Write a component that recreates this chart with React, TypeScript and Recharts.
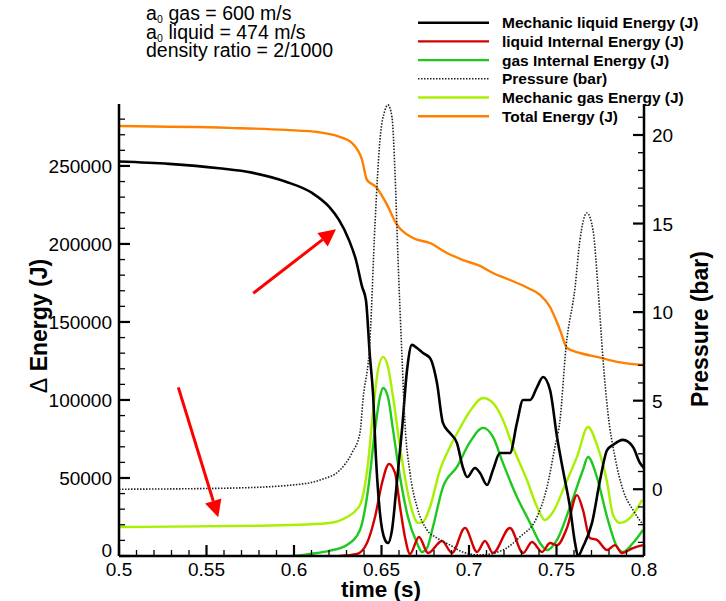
import React from 'react';
import { ComposedChart, Line, XAxis, YAxis, Legend, ReferenceLine, Customized } from 'recharts';

const FONT = '"Liberation Sans", Arial, Helvetica, sans-serif';

// [time (s), energy (J)]
const liquidMechanic: [number, number][] = [
  [0.5, 252800], [0.5286, 251300], [0.5571, 248500], [0.576, 245700], [0.5954, 239900],
  [0.6103, 232700], [0.62, 223900], [0.6257, 215400], [0.6314, 202600], [0.6354, 189700],
  [0.6389, 172600], [0.6411, 164100], [0.6434, 127600], [0.6451, 105100], [0.6469, 61500],
  [0.6491, 27600], [0.652, 10300], [0.6537, 8300], [0.656, 16700], [0.6589, 48700],
  [0.6617, 80800], [0.6646, 119200], [0.6674, 135300], [0.6703, 133300], [0.6737, 130100],
  [0.6777, 126900], [0.6817, 110900], [0.6851, 85300], [0.6891, 78800], [0.6931, 72400],
  [0.6966, 56400], [0.6989, 50600], [0.7034, 56400], [0.7063, 53200], [0.7103, 45500],
  [0.7137, 55100], [0.7177, 66000], [0.7234, 66000], [0.7274, 85300], [0.7309, 100000],
  [0.7349, 100000], [0.7389, 108300], [0.7423, 114700], [0.7463, 106400], [0.7503, 76300],
  [0.7537, 55100], [0.7577, 31400], [0.7606, 8300], [0.7623, 0], [0.7651, 5800],
  [0.7703, 21200], [0.7749, 48700], [0.7789, 67900], [0.7823, 71200], [0.788, 74400],
  [0.7937, 69900], [0.7977, 59600], [0.8, 56400],
];

const liquidInternal: [number, number][] = [
  [0.6263, 0], [0.636, 1300], [0.6417, 8300], [0.6463, 25000], [0.6503, 46800],
  [0.6543, 59000], [0.6577, 53200], [0.6606, 31400], [0.6634, 12200], [0.6663, 1300],
  [0.6714, 12200], [0.6766, 1900], [0.6846, 9600], [0.6903, 1900], [0.6977, 18000],
  [0.7046, 2600], [0.7091, 9600], [0.7137, 1900], [0.7234, 17900], [0.7309, 1900],
  [0.736, 9000], [0.7417, 2600], [0.7463, 8300], [0.7503, 7000], [0.756, 18000],
  [0.7617, 39000], [0.7651, 29500], [0.7691, 11500], [0.7731, 10300], [0.7789, 3800],
  [0.7834, 7000], [0.7874, 1900], [0.7937, 5100], [0.7994, 7000],
];

const gasInternal: [number, number][] = [
  [0.6, 0], [0.6091, 1300], [0.6206, 3400], [0.6303, 7100], [0.6377, 16700],
  [0.6423, 42300], [0.6463, 80800], [0.6491, 101900], [0.6509, 107700], [0.6537, 101900],
  [0.6566, 80800], [0.6606, 50600], [0.6651, 25000], [0.6703, 8300], [0.6731, 2600],
  [0.676, 5100], [0.6794, 18600], [0.6851, 44200], [0.6931, 57100], [0.7006, 73100],
  [0.708, 82100], [0.7137, 76300], [0.7194, 59600], [0.7274, 37800], [0.7349, 21200],
  [0.7406, 8300], [0.7446, 3800], [0.7503, 10300], [0.7577, 31400], [0.7651, 55100],
  [0.768, 63500], [0.7731, 50600], [0.7789, 25000], [0.7846, 5800], [0.788, 2600],
  [0.7937, 8300], [0.7994, 16700],
];

const gasMechanic: [number, number][] = [
  [0.5, 18600], [0.5806, 19400], [0.6189, 21000], [0.6303, 25000], [0.6377, 32700],
  [0.6423, 59600], [0.6451, 91700], [0.648, 119200], [0.6509, 127600], [0.6537, 121200],
  [0.6566, 101900], [0.6606, 69900], [0.6663, 34000], [0.6709, 21200], [0.6737, 21800],
  [0.6777, 31400], [0.6834, 55100], [0.6891, 69900], [0.6949, 82100], [0.7006, 92900],
  [0.708, 101300], [0.7137, 98100], [0.7194, 87200], [0.7251, 69900], [0.7331, 48700],
  [0.7389, 31400], [0.7434, 23100], [0.748, 28200], [0.7549, 45500], [0.7617, 63500],
  [0.768, 82700], [0.7731, 71200], [0.7789, 47400], [0.7823, 26300], [0.7863, 21200],
  [0.792, 24400], [0.7989, 35900],
];

const totalEnergy: [number, number][] = [
  [0.5, 275600], [0.5629, 274400], [0.5954, 273100], [0.6143, 271600], [0.6257, 268800],
  [0.6331, 264700], [0.6389, 253800], [0.6417, 241000], [0.6469, 236500], [0.6526, 226300],
  [0.6589, 212200], [0.668, 203800], [0.6777, 200600], [0.6874, 194200], [0.6966, 189700],
  [0.7063, 185900], [0.7137, 181400], [0.7234, 176900], [0.7337, 171800], [0.7406, 167300],
  [0.7463, 159600], [0.752, 144900], [0.756, 133300], [0.7634, 130100], [0.7731, 127600],
  [0.7846, 124400], [0.8, 122400],
];

// [time (s), pressure (bar)]
const pressure: [number, number][] = [
  [0.5, 0.0], [0.5617, 0.06], [0.5994, 0.24], [0.6149, 0.52], [0.6263, 1.09],
  [0.6331, 2.05], [0.6377, 3.18], [0.6394, 5.04], [0.6434, 8.4], [0.6463, 15.0],
  [0.6491, 19.7], [0.652, 21.4], [0.6537, 21.7], [0.656, 21.0], [0.6577, 17.9],
  [0.6594, 13.1], [0.6617, 7.5], [0.6634, 3.74], [0.6663, 0.92], [0.6703, -1.0],
  [0.676, -2.3], [0.6817, -2.75], [0.6891, -3.15], [0.6966, -3.55], [0.7063, -3.71],
  [0.7194, -3.43], [0.7291, -2.69], [0.7389, -1.56], [0.7446, 0.13], [0.7491, 2.39],
  [0.752, 3.9], [0.7554, 7.98], [0.7606, 11.4], [0.7634, 14.07], [0.7674, 15.6],
  [0.7709, 14.6], [0.7737, 11.4], [0.7766, 7.3], [0.7794, 4.3], [0.7834, 1.82],
  [0.788, -0.04], [0.7937, -1.17], [0.7994, -2.0],
];

const xMajorTicks = [0.5, 0.55, 0.6, 0.65, 0.7, 0.75, 0.8];
const energyMajorTicks = [0, 50000, 100000, 150000, 200000, 250000];
const pressureMajorTicks = [0, 5, 10, 15, 20];

const noteLines = [
  { sub: true, text: 'gas = 600 m/s' },
  { sub: true, text: 'liquid = 474 m/s' },
  { sub: false, text: 'density ratio = 2/1000' },
];

// red arrows, [time, energy] tail -> head
const arrows = [
  { from: [0.5767, 168400], to: [0.624, 209400] },
  { from: [0.5339, 108100], to: [0.5567, 24800] },
];

const series = [
  { name: 'Mechanic liquid Energy (J)', data: liquidMechanic, color: '#000000', axis: 'left', dash: undefined, width: 2.6 },
  { name: 'liquid Internal Energy (J)', data: liquidInternal, color: '#d40000', axis: 'left', dash: undefined, width: 2.4 },
  { name: 'gas Internal Energy (J)', data: gasInternal, color: '#1ec81e', axis: 'left', dash: undefined, width: 2.4 },
  { name: 'Pressure (bar)', data: pressure, color: '#222222', axis: 'right', dash: '1.5 1.5', width: 1.6 },
  { name: 'Mechanic gas Energy (J)', data: gasMechanic, color: '#a8f000', axis: 'left', dash: undefined, width: 2.4 },
  { name: 'Total Energy (J)', data: totalEnergy, color: '#ff8000', axis: 'left', dash: undefined, width: 2.4 },
];
const drawOrder = [5, 4, 2, 1, 0, 3];

const range = (a: number, b: number, step: number) => {
  const out: number[] = [];
  for (let v = a; v <= b + step / 2; v += step) out.push(+v.toFixed(4));
  return out;
};
const xTicks = range(0.5, 0.8, 0.01);
const energyTicks = range(0, 280000, 10000);
const pressureTicks = range(-3, 21, 1);

const isIn = (list: number[], v: number) => list.some((m) => Math.abs(m - v) < 1e-6);

const XTick = (p: any) => {
  const { x, y, payload } = p;
  const major = isIn(xMajorTicks, payload.value);
  return (
    <g>
      <line x1={x} x2={x} y1={y} y2={y - (major ? 11 : 6)} stroke="#000" strokeWidth={major ? 2.2 : 1.3} />
      {major && (
        <text x={x} y={y + 20} textAnchor="middle" fontSize={19} fontFamily={FONT} fill="#000">
          {String(payload.value)}
        </text>
      )}
    </g>
  );
};

const LeftTick = (p: any) => {
  const { x, y, payload } = p;
  const major = isIn(energyMajorTicks, payload.value);
  // the 0 label sits a little higher, above the 0.5 label
  const dy = payload.value === 0 ? 1 : 7;
  return (
    <g>
      <line x1={x} x2={x + (major ? 11 : 6)} y1={y} y2={y} stroke="#000" strokeWidth={major ? 2.2 : 1.3} />
      {major && (
        <text x={x - 7} y={y + dy} textAnchor="end" fontSize={19} fontFamily={FONT} fill="#000">
          {String(payload.value)}
        </text>
      )}
    </g>
  );
};

const RightTick = (p: any) => {
  const { x, y, payload } = p;
  const major = isIn(pressureMajorTicks, payload.value);
  return (
    <g>
      <line x1={x} x2={x - (major ? 11 : 6)} y1={y} y2={y} stroke="#000" strokeWidth={major ? 2.2 : 1.3} />
      {major && (
        <text x={x + 8} y={y + 7} textAnchor="start" fontSize={19} fontFamily={FONT} fill="#000">
          {String(payload.value)}
        </text>
      )}
    </g>
  );
};

const ArrowShape = (p: any) => {
  const { x1, y1, x2, y2 } = p;
  const ang = Math.atan2(y2 - y1, x2 - x1);
  const len = 17;
  const half = 8.5;
  const bx = x2 - len * Math.cos(ang);
  const by = y2 - len * Math.sin(ang);
  const px = -Math.sin(ang) * half;
  const py = Math.cos(ang) * half;
  return (
    <g>
      <line x1={x1} y1={y1} x2={bx} y2={by} stroke="#ff0000" strokeWidth={3} />
      <polygon points={`${x2},${y2} ${bx + px},${by + py} ${bx - px},${by - py}`} fill="#ff0000" />
    </g>
  );
};

const LegendBox = () => (
  <svg width={300} height={125} style={{ display: 'block' }}>
    {series.map((s, i) => {
      const cy = 22.7 + i * 18.7;
      return (
        <g key={s.name}>
          <line x1={0} x2={71} y1={cy} y2={cy} stroke={s.color} strokeWidth={s.dash ? 1.6 : 2.4} strokeDasharray={s.dash} />
          <text x={84} y={cy + 5.5} fontSize={15.5} fontWeight="bold" fontFamily={FONT} fill="#000">
            {s.name}
          </text>
        </g>
      );
    })}
  </svg>
);

const Labels = () => (
  <g fontFamily={FONT} fill="#000">
    {noteLines.map((n, i) => {
      const y = 20 + i * 18.5;
      if (!n.sub) {
        return <text key={i} x={146} y={y} fontSize={19.5}>{n.text}</text>;
      }
      return (
        <g key={i}>
          <text x={146} y={y} fontSize={19.5}>a</text>
          <text x={157} y={y + 3} fontSize={10.5}>0</text>
          <text x={168.5} y={y} fontSize={19.5}>{n.text}</text>
        </g>
      );
    })}
    <text x={381} y={597} textAnchor="middle" fontSize={22.5} fontWeight="bold">time (s)</text>
    <text x={47} y={326} textAnchor="middle" fontSize={23} fontWeight="bold" transform="rotate(-90 47 326)">
      <tspan fontWeight="normal">Δ</tspan> Energy (J)
    </text>
    <text x={708} y={329} textAnchor="middle" fontSize={23} fontWeight="bold" transform="rotate(-90 708 329)">
      Pressure (bar)
    </text>
  </g>
);

const toPoints = (d: [number, number][]) => d.map(([t, v]) => ({ t, v }));

export default function App() {
  return (
    <div style={{ position: 'absolute', left: 0, top: 0, width: 726, height: 601, background: '#fff' }}>
      <ComposedChart width={726} height={601} margin={{ top: 104, right: 22, bottom: 15, left: 59 }}>
        <XAxis
          dataKey="t"
          type="number"
          domain={[0.5, 0.8]}
          ticks={xTicks}
          interval={0}
          height={30}
          allowDataOverflow
          axisLine={{ stroke: '#000', strokeWidth: 2.5 }}
          tickLine={false}
          tickSize={0}
          tickMargin={0}
          tick={XTick}
        />
        <YAxis
          yAxisId="left"
          type="number"
          domain={[0, 289700]}
          ticks={energyTicks}
          interval={0}
          width={60}
          allowDataOverflow
          axisLine={{ stroke: '#000', strokeWidth: 2.5 }}
          tickLine={false}
          tickSize={0}
          tickMargin={0}
          tick={LeftTick}
        />
        <YAxis
          yAxisId="right"
          orientation="right"
          type="number"
          domain={[-3.77, 21.75]}
          ticks={pressureTicks}
          interval={0}
          width={60}
          allowDataOverflow
          axisLine={{ stroke: '#000', strokeWidth: 2.5 }}
          tickLine={false}
          tickSize={0}
          tickMargin={0}
          tick={RightTick}
        />
        {drawOrder.map((i) => {
          const s = series[i];
          return (
            <Line
              key={s.name}
              name={s.name}
              yAxisId={s.axis}
              data={toPoints(s.data)}
              dataKey="v"
              type="monotone"
              stroke={s.color}
              strokeWidth={s.width}
              strokeDasharray={s.dash}
              dot={false}
              activeDot={false}
              isAnimationActive={false}
            />
          );
        })}
        {arrows.map((a, i) => (
          <ReferenceLine
            key={i}
            yAxisId="left"
            segment={[{ x: a.from[0], y: a.from[1] }, { x: a.to[0], y: a.to[1] }]}
            shape={ArrowShape}
          />
        ))}
        <Legend
          layout="vertical"
          align="center"
          verticalAlign="middle"
          content={LegendBox}
          wrapperStyle={{ left: 418, top: 0, width: 300, height: 125 }}
        />
        <Customized component={Labels} />
      </ComposedChart>
    </div>
  );
}
